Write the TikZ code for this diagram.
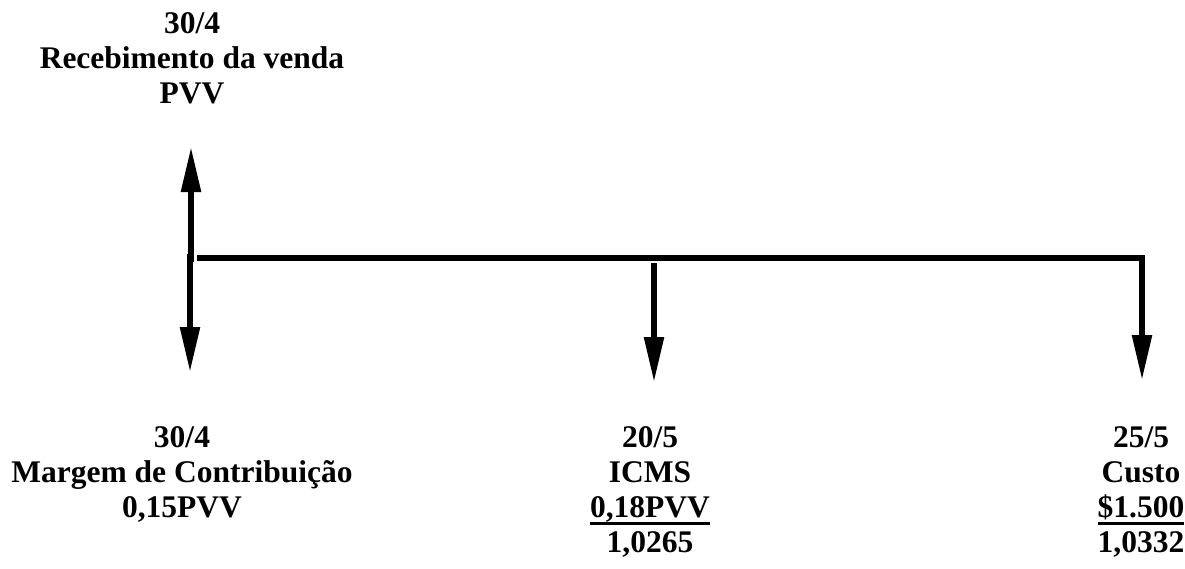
\documentclass[tikz,border=0pt]{standalone}
\usepackage{fontspec}
\setmainfont{Liberation Serif}
\usetikzlibrary{arrows.meta}
% thick rule set just below the baseline of its text
\newcommand\ulbar[1]{\leavevmode\setbox0\hbox{#1}\rlap{\rule[-8pt]{\wd0}{3pt}}\box0}
\begin{document}
\begin{tikzpicture}[x=1pt,y=-1pt,
  axis/.style={line width=5.5pt},
  flow/.style={line width=5.5pt,-{Triangle[length=45pt,width=19pt]}},
  lbl/.style={align=center,inner sep=0pt,anchor=north,
    font=\fontsize{31.5}{35}\selectfont\bfseries}]
\useasboundingbox (0,0) rectangle (1185,568);

% time line and cash-flow points
\coordinate (o) at (191,258);
\coordinate (m) at (654,258);
\coordinate (e) at (1142,258);
\coordinate (inTip) at (191,147);
\coordinate (outTip) at (190,372);
\coordinate (icmsTip) at (654,382);
\coordinate (custoTip) at (1142,380);

\draw[axis] ([xshift=6pt]o) -- (e);
\draw[flow] ([yshift=-4pt]o) -- (inTip);
\draw[flow] ([xshift=-1pt,yshift=4pt]o) -- (outTip);
\draw[flow] ([yshift=-5pt]m) -- (icmsTip);
\draw[flow] ([yshift=2.75pt]e) -- (custoTip);

% labels
\node[lbl] (venda) at (192,12) {30/4\\Recebimento da venda\\PVV};
\node[lbl] (margem) at (182,426) {30/4\\Margem de Contribuição\\0,15PVV};
\node[lbl] (icms) at (650,426) {20/5\\ICMS\\\ulbar{0,18PVV}\\1,0265};
\node[lbl] (custo) at (1141,426) {25/5\\Custo\\\ulbar{\$1.500}\\1,0332};
\end{tikzpicture}
\end{document}
